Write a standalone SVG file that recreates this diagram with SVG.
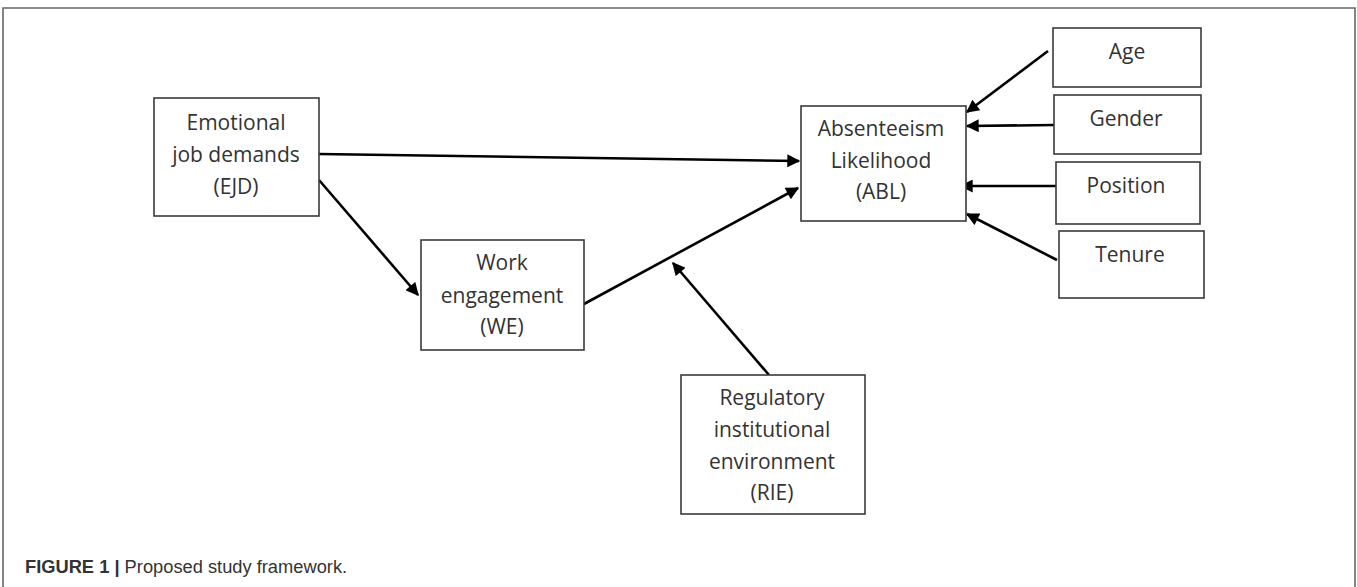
<svg xmlns="http://www.w3.org/2000/svg" width="1357" height="587" viewBox="0 0 1357 587">
<style>
.box{fill:#fff;stroke:#3a3a3a;stroke-width:1.6}
.t{font-family:"Open Sans","Liberation Sans",sans-serif;font-size:21px;fill:#333;text-anchor:middle}
.c{stroke:#000;stroke-width:2.6;fill:none;marker-end:url(#ah)}
.frame{stroke:#666;stroke-width:1.6;fill:none}
.cap{font-family:"Liberation Sans",Arial,sans-serif;font-size:18.3px;fill:#333}
</style>
<defs>
<marker id="ah" viewBox="0 0 10 10" refX="9" refY="5" markerWidth="5.6" markerHeight="5" orient="auto" markerUnits="strokeWidth">
<path d="M0,0 L10,5 L0,10 z" fill="#000"/>
</marker>
</defs>
<rect width="1357" height="587" fill="#fff"/>
<path class="frame" d="M3,587 V8 H1355 V587"/>

<g id="connectors">
<line class="c" x1="319" y1="154" x2="799" y2="161"/>
<line class="c" x1="319" y1="180" x2="418" y2="295"/>
<line class="c" x1="584" y1="304" x2="798" y2="188"/>
<line class="c" x1="769" y1="375" x2="673" y2="263"/>
<line class="c" x1="1048" y1="51" x2="967" y2="112"/>
<line class="c" x1="1054" y1="125" x2="967" y2="126"/>
<line class="c" x1="1056" y1="186" x2="961" y2="186"/>
<line class="c" x1="1057" y1="260" x2="967" y2="214"/>
</g>

<g id="EJD">
<rect class="box" x="154" y="98" width="165" height="118"/>
<text class="t" x="236" y="130">Emotional</text>
<text class="t" x="236" y="162">job demands</text>
<text class="t" x="236" y="194">(EJD)</text>
</g>

<g id="WE">
<rect class="box" x="421" y="240" width="163" height="110"/>
<text class="t" x="502" y="270">Work</text>
<text class="t" x="502" y="303">engagement</text>
<text class="t" x="502" y="334">(WE)</text>
</g>

<g id="RIE">
<rect class="box" x="681" y="375" width="184" height="139"/>
<text class="t" x="772" y="405">Regulatory</text>
<text class="t" x="772" y="437">institutional</text>
<text class="t" x="772" y="469">environment</text>
<text class="t" x="772" y="500">(RIE)</text>
</g>

<g id="ABL">
<rect class="box" x="801" y="106" width="165" height="115"/>
<text class="t" x="881" y="136">Absenteeism</text>
<text class="t" x="881" y="168">Likelihood</text>
<text class="t" x="881" y="199">(ABL)</text>
</g>

<g id="Age">
<rect class="box" x="1053" y="28" width="148" height="59"/>
<text class="t" x="1127" y="59">Age</text>
</g>
<g id="Gender">
<rect class="box" x="1054" y="95" width="147" height="59"/>
<text class="t" x="1126" y="126">Gender</text>
</g>
<g id="Position">
<rect class="box" x="1056" y="162" width="144" height="62"/>
<text class="t" x="1126" y="193">Position</text>
</g>
<g id="Tenure">
<rect class="box" x="1059" y="231" width="145" height="67"/>
<text class="t" x="1130" y="262">Tenure</text>
</g>

<text class="cap" x="25" y="573"><tspan font-weight="bold">FIGURE 1 |</tspan> Proposed study framework.</text>
</svg>
